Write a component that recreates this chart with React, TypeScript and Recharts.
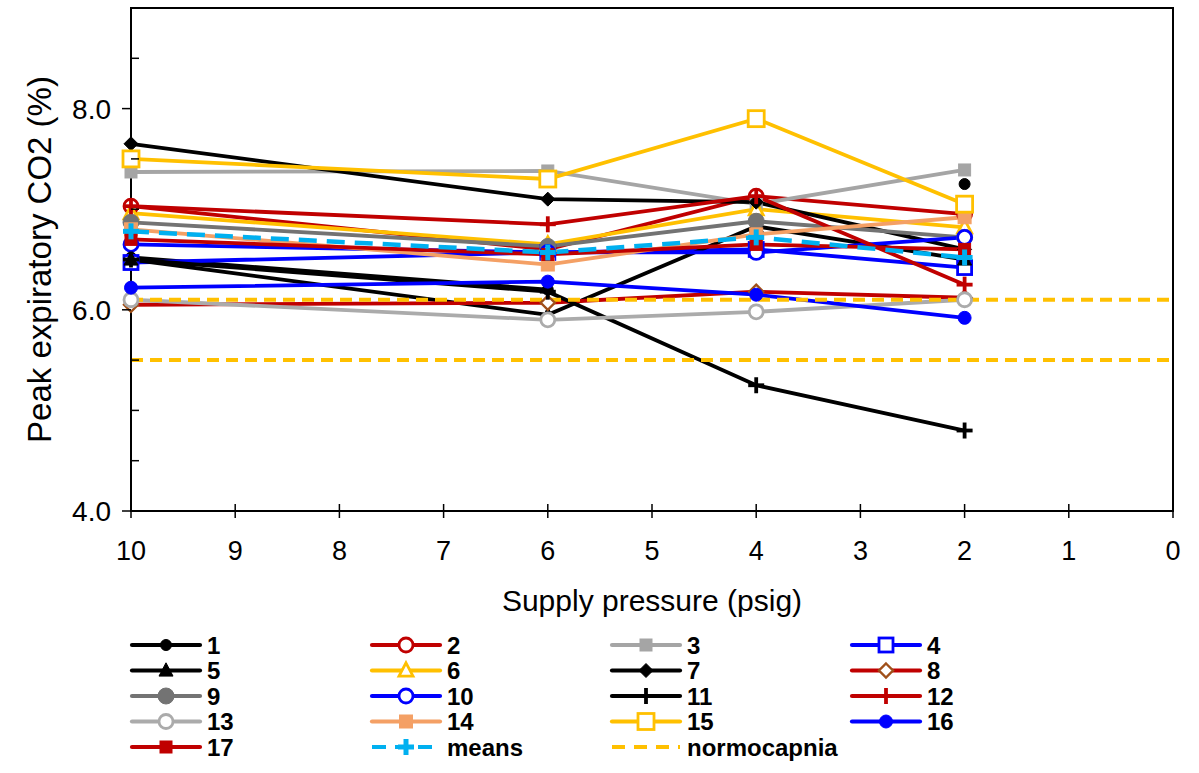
import React from 'react';
import { LineChart, Line, XAxis, YAxis, ReferenceArea } from 'recharts';

// ---------- data ----------
const pressures = [10, 6, 4, 2];
const subject1 = [6.52, 6.2, null, 7.25];
const subject2 = [7.03, 6.6, 7.13, 6.95];
const subject3 = [7.37, 7.38, 7.05, 7.39];
const subject4 = [6.47, 6.57, 6.6, 6.42];
const subject5 = [6.5, 5.95, 6.83, 6.5];
const subject6 = [6.96, 6.65, 7.0, 6.82];
const subject7 = [7.65, 7.1, 7.07, 6.6];
const subject8 = [6.05, 6.07, 6.18, 6.12];
const subject9 = [6.87, 6.63, 6.88, 6.72];
const subject10 = [6.65, 6.57, 6.57, 6.72];
const subject11 = [6.5, 6.18, 5.25, 4.8];
const subject12 = [7.03, 6.85, 7.13, 6.25];
const subject13 = [6.1, 5.9, 5.98, 6.1];
const subject14 = [6.8, 6.45, 6.75, 6.92];
const subject15 = [7.5, 7.3, 7.9, 7.05];
const subject16 = [6.22, 6.28, 6.15, 5.92];
const subject17 = [6.7, 6.55, 6.65, 6.6];
const meansValues = [6.78, 6.57, 6.72, 6.52];
const normocapniaLimits = [6.1, 5.5];
const normocapniaSpan = [10, 0];

const xTicks = [0, 1, 2, 3, 4, 5, 6, 7, 8, 9, 10];
const yMajorTicks = [4, 6, 8];
const yAllTicks = [4, 4.5, 5, 5.5, 6, 6.5, 7, 7.5, 8, 8.5];

const xTitle = 'Supply pressure (psig)';
const yTitle = 'Peak expiratory CO2 (%)';

// ---------- styles ----------
const FONT = '"Liberation Sans", Arial, sans-serif';
const BLACK = '#000000';
const RED = '#C00000';
const GRAY = '#A5A5A5';
const LGRAY = '#ABABAB';
const DGRAY = '#737373';
const BLUE = '#0000FF';
const YELLOW = '#FFC000';
const BROWN = '#A0501A';
const ORANGE = '#F4A065';
const LBLUE = '#00B0F0';

type Shape = 'circle' | 'square' | 'triangle' | 'diamond' | 'plus' | 'none';

interface SeriesDef {
  key: string;
  name: string;
  values: (number | null)[];
  color: string;
  shape: Shape;
  filled: boolean;
  size: number;
  markerColor?: string;
  dash?: string;
}

const seriesList: SeriesDef[] = [
  { key: 's1', name: '1', values: subject1, color: BLACK, shape: 'circle', filled: true, size: 5.5 },
  { key: 's2', name: '2', values: subject2, color: RED, shape: 'circle', filled: false, size: 7 },
  { key: 's3', name: '3', values: subject3, color: GRAY, shape: 'square', filled: true, size: 6 },
  { key: 's4', name: '4', values: subject4, color: BLUE, shape: 'square', filled: false, size: 7 },
  { key: 's5', name: '5', values: subject5, color: BLACK, shape: 'triangle', filled: true, size: 7 },
  { key: 's6', name: '6', values: subject6, color: YELLOW, shape: 'triangle', filled: false, size: 7 },
  { key: 's7', name: '7', values: subject7, color: BLACK, shape: 'diamond', filled: true, size: 7 },
  { key: 's8', name: '8', values: subject8, color: RED, shape: 'diamond', filled: false, size: 7, markerColor: BROWN },
  { key: 's9', name: '9', values: subject9, color: DGRAY, shape: 'circle', filled: true, size: 8 },
  { key: 's10', name: '10', values: subject10, color: BLUE, shape: 'circle', filled: false, size: 7 },
  { key: 's11', name: '11', values: subject11, color: BLACK, shape: 'plus', filled: true, size: 8 },
  { key: 's12', name: '12', values: subject12, color: RED, shape: 'plus', filled: true, size: 8 },
  { key: 's13', name: '13', values: subject13, color: LGRAY, shape: 'circle', filled: false, size: 7 },
  { key: 's14', name: '14', values: subject14, color: ORANGE, shape: 'square', filled: true, size: 6.5 },
  { key: 's15', name: '15', values: subject15, color: YELLOW, shape: 'square', filled: false, size: 8 },
  { key: 's16', name: '16', values: subject16, color: BLUE, shape: 'circle', filled: true, size: 6.5 },
  { key: 's17', name: '17', values: subject17, color: RED, shape: 'square', filled: true, size: 6 },
  { key: 'means', name: 'means', values: meansValues, color: LBLUE, shape: 'plus', filled: true, size: 8, dash: '18 10' },
];

const normoDef = { name: 'normocapnia', color: YELLOW, dash: '12 7' };

const toPoints = (vals: (number | null)[]) => pressures.map((x, i) => ({ x, y: vals[i] }));
const normoPoints = (level: number) => normocapniaSpan.map((x) => ({ x, y: level }));

// ---------- markers ----------
function MarkerShape(props: { cx: any; cy: any; def: SeriesDef }) {
  const { cx, cy, def } = props;
  if (cx == null || cy == null || Number.isNaN(cx) || Number.isNaN(cy)) return <g />;
  const color = def.markerColor || def.color;
  const fill = def.filled ? color : '#FFFFFF';
  const sw = def.filled ? 1 : 2.8;
  const s = def.size;
  switch (def.shape) {
    case 'circle':
      return <circle cx={cx} cy={cy} r={s} fill={fill} stroke={color} strokeWidth={sw} />;
    case 'square':
      return <rect x={cx - s} y={cy - s} width={2 * s} height={2 * s} fill={fill} stroke={color} strokeWidth={sw} />;
    case 'triangle':
      return (
        <polygon
          points={`${cx},${cy - s * 1.1} ${cx + s},${cy + s * 0.8} ${cx - s},${cy + s * 0.8}`}
          fill={fill}
          stroke={color}
          strokeWidth={sw}
        />
      );
    case 'diamond':
      return (
        <polygon
          points={`${cx},${cy - s} ${cx + s},${cy} ${cx},${cy + s} ${cx - s},${cy}`}
          fill={fill}
          stroke={color}
          strokeWidth={def.filled ? 1 : 2.4}
        />
      );
    case 'plus':
      return (
        <g>
          <line x1={cx - s} y1={cy} x2={cx + s} y2={cy} stroke={color} strokeWidth={def.key === 'means' ? 5 : 3.8} />
          <line x1={cx} y1={cy - s} x2={cx} y2={cy + s} stroke={color} strokeWidth={def.key === 'means' ? 5 : 3.8} />
        </g>
      );
    default:
      return <g />;
  }
}

// ---------- ticks & titles ----------
const XTick = (props: any) => {
  const { x, y, payload } = props;
  return (
    <g>
      <line x1={x} y1={y - 7} x2={x} y2={y + 7} stroke={BLACK} strokeWidth={1.5} />
      <text x={x} y={y + 49} textAnchor="middle" fontSize={27} fontFamily={FONT} fill={BLACK}>
        {payload.value}
      </text>
    </g>
  );
};

const YTick = (props: any) => {
  const { x, y, payload } = props;
  const v = payload.value as number;
  if (yMajorTicks.includes(v)) {
    return (
      <g>
        <line x1={x - 9} y1={y} x2={x} y2={y} stroke={BLACK} strokeWidth={1.5} />
        <text x={x - 20} y={y} dy="0.36em" textAnchor="end" fontSize={28} fontFamily={FONT} fill={BLACK}>
          {v.toFixed(1)}
        </text>
      </g>
    );
  }
  return (
    <g>
      <line x1={x} y1={y} x2={x + 8} y2={y} stroke={BLACK} strokeWidth={1.5} />
    </g>
  );
};

const XTitle = (props: any) => {
  const vb = props.viewBox || { x: 131, y: 511, width: 1042, height: 109 };
  return (
    <text x={vb.x + vb.width / 2} y={vb.y + 100} textAnchor="middle" fontSize={30} fontFamily={FONT} fill={BLACK}>
      {xTitle}
    </text>
  );
};

const YTitle = (props: any) => {
  const vb = props.viewBox || { x: 0, y: 8, width: 131, height: 503 };
  const cy = vb.y + vb.height / 2;
  return (
    <text
      transform={`translate(51, ${cy}) rotate(-90)`}
      textAnchor="middle"
      fontSize={33}
      fontFamily={FONT}
      fill={BLACK}
    >
      {yTitle}
    </text>
  );
};

// ---------- legend ----------
const legendEntries = [...seriesList.map((s) => s.name), normoDef.name];

function LegendBlock() {
  const colX = [132, 372, 612, 852];
  const rowY0 = 645;
  const rowH = 25.5;
  return (
    <svg width={1199} height={773} style={{ position: 'absolute', left: 0, top: 0, pointerEvents: 'none' }}>
      {legendEntries.map((name, i) => {
        const col = i % 4;
        const row = Math.floor(i / 4);
        const x0 = colX[col];
        const y = rowY0 + row * rowH;
        const def = seriesList.find((s) => s.name === name);
        const color = def ? def.color : normoDef.color;
        const dash = def ? def.dash : normoDef.dash;
        return (
          <g key={name}>
            <line
              x1={x0}
              y1={y}
              x2={x0 + 68}
              y2={y}
              stroke={color}
              strokeWidth={4.2}
              strokeDasharray={dash === undefined ? undefined : name === 'means' ? '14 9' : '13 9'}
              strokeLinecap={dash ? 'butt' : 'round'}
            />
            {def ? <MarkerShape cx={x0 + 34} cy={y} def={def} /> : null}
            <text x={x0 + 75} y={y + 8.5} fontSize={24} fontWeight="bold" fontFamily={FONT} fill={BLACK}>
              {name}
            </text>
          </g>
        );
      })}
    </svg>
  );
}

// ---------- app ----------
export default function App() {
  return (
    <div style={{ position: 'absolute', left: 0, top: 0, width: 1199, height: 773, background: '#FFFFFF' }}>
      <LineChart width={1199} height={620} margin={{ top: 8, right: 26, left: 0, bottom: 0 }}>
        <XAxis
          type="number"
          dataKey="x"
          domain={[0, 10]}
          reversed
          ticks={xTicks}
          interval={0}
          tickLine={false}
          tickSize={0}
          tickMargin={0}
          tick={XTick}
          axisLine={{ stroke: BLACK, strokeWidth: 2 }}
          height={109}
          label={XTitle}
        />
        <YAxis
          type="number"
          domain={[4, 9]}
          ticks={yAllTicks}
          interval={0}
          tickLine={false}
          tickSize={0}
          tickMargin={0}
          tick={YTick}
          axisLine={{ stroke: BLACK, strokeWidth: 2 }}
          width={131}
          label={YTitle}
        />
        <ReferenceArea x1={0} x2={10} y1={4} y2={9} fill="none" stroke={BLACK} strokeWidth={2} />
        {seriesList.map((def) => (
          <Line
            key={def.key}
            data={toPoints(def.values)}
            dataKey="y"
            name={def.name}
            stroke={def.color}
            strokeWidth={def.key === 'means' ? 4.5 : 3.8}
            strokeDasharray={def.dash}
            connectNulls={false}
            isAnimationActive={false}
            dot={(p: any) => (
              <g key={`${def.key}-${p.index}`}>
                <MarkerShape cx={p.cx} cy={p.cy} def={def} />
              </g>
            )}
            activeDot={false}
          />
        ))}
        {normocapniaLimits.map((lvl, i) => (
          <Line
            key={`normo-${i}`}
            data={normoPoints(lvl)}
            dataKey="y"
            name={normoDef.name}
            stroke={normoDef.color}
            strokeWidth={4}
            strokeDasharray={normoDef.dash}
            dot={false}
            activeDot={false}
            isAnimationActive={false}
          />
        ))}
      </LineChart>
      <LegendBlock />
    </div>
  );
}
